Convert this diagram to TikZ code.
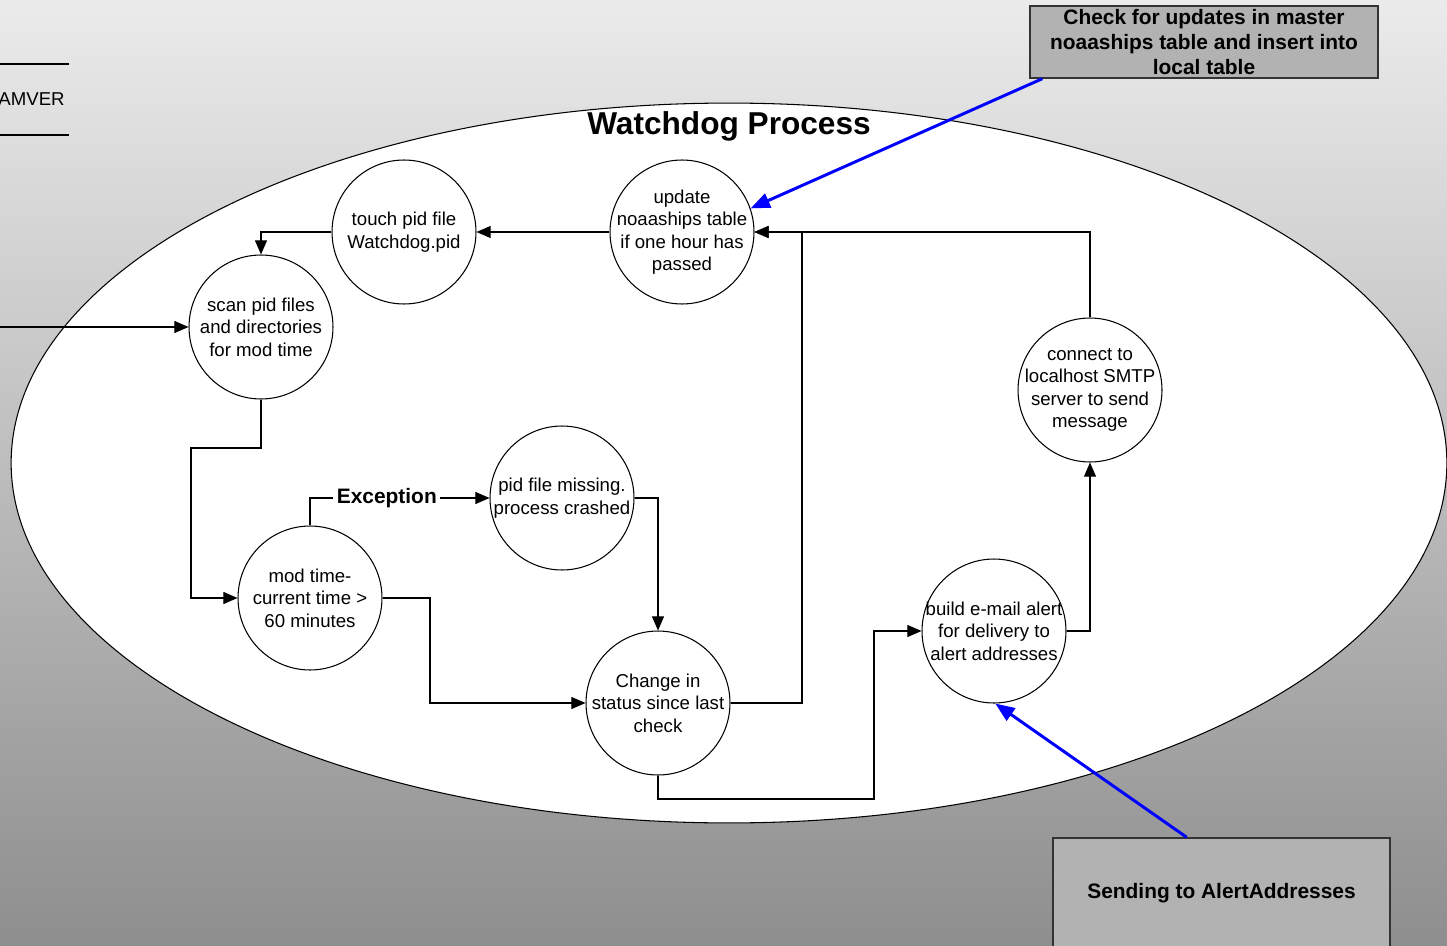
\documentclass[tikz,border=0pt]{standalone}
\usepackage{fontspec}
\setmainfont{Liberation Sans}
\usetikzlibrary{arrows.meta}
\definecolor{bgtop}{RGB}{235,235,235}
\definecolor{bgbot}{RGB}{142,142,142}
\definecolor{notegray}{RGB}{178,178,178}
\begin{document}
\begin{tikzpicture}[
    x=0.02cm, y=-0.02cm,
    proc/.style={circle, draw, fill=white, line width=0.6pt, minimum size=2.88cm, inner sep=-6pt, align=center, font=\fontsize{10.6}{12.8}\selectfont},
    note/.style={rectangle, draw=black!80, fill=notegray, line width=0.8pt, inner ysep=0pt, align=center, font=\fontsize{11.9}{14.2}\selectfont\bfseries},
    arrow/.style={-{Triangle[length=8pt, width=6.8pt]}, line width=0.6pt},
    link/.style={-{Triangle[length=11pt, width=8.5pt]}, blue, line width=1.7pt}
]
\useasboundingbox (0,0) rectangle (1447,946);
\clip (0,0) rectangle (1447,946);
\shade[top color=bgtop, bottom color=bgbot] (0,0) rectangle (1447,946);
\draw[fill=white, line width=0.6pt] (729,463) ellipse [x radius=14.36cm, y radius=7.2cm];

\draw[line width=0.6pt] (-5,64) -- (69,64) (-5,135) -- (69,135);
\node[anchor=east, inner sep=0pt, font=\fontsize{10.6}{12.8}\selectfont] (d1) at (65,99) {AMVER};

\node[font=\fontsize{18}{21}\selectfont\bfseries] (title) at (729,126) {Watchdog Process};

\node[proc] (p1) at (404,232) {touch pid file\\Watchdog.pid};
\node[proc] (p2) at (682,232) {update\\noaaships table\\if one hour has\\passed};
\node[proc] (p3) at (261,327) {scan pid files\\and directories\\for mod time};
\node[proc] (p4) at (562,498) {pid file missing.\\process crashed};
\node[proc] (p5) at (310,598) {mod time-\\current time >\\60 minutes};
\node[proc] (p6) at (658,703) {Change in\\status since last\\check};
\node[proc] (p7) at (994,631) {build e-mail alert\\for delivery to\\alert addresses};
\node[proc] (p8) at (1090,390) {connect to\\localhost SMTP\\server to send\\message};

\node[note, minimum width=6.96cm, minimum height=1.44cm] (n1) at (1204,42) {Check for updates in master\\noaaships table and insert into\\local table};
\node[note, minimum width=6.74cm, minimum height=2.2cm] (n2) at (1221.5,893) {Sending to AlertAddresses};

\coordinate (c1) at (-5,327);

\draw[arrow] (p2.west) -- (p1.east);
\draw[arrow] (p1.west) -| (p3.north);
\draw[arrow] (c1) -- (p3.west);
\draw[arrow] (p3.south) |- (191,448) |- (p5.west);
\draw[arrow] (p5.north) |- node[pos=0.714, fill=white, inner sep=2pt, font=\fontsize{11.9}{14.2}\selectfont\bfseries] (e1) {Exception} (p4.west);
\draw[arrow] (p4.east) -| (p6.north);
\draw[arrow] (p5.east) -- (430,598) |- (p6.west);
\draw[arrow] (p6.east) -| (802,232) -- (p2.east);
\draw[arrow] (p8.north) |- (p2.east);
\draw[arrow] (p6.south) |- (874,799) |- (p7.west);
\draw[arrow] (p7.east) -| (p8.south);

\draw[link] ([xshift=0.26cm]n1.south west) -- (p2.19);
\draw[link] (n2.122.1) -- (p7.-89);
\end{tikzpicture}
\end{document}
